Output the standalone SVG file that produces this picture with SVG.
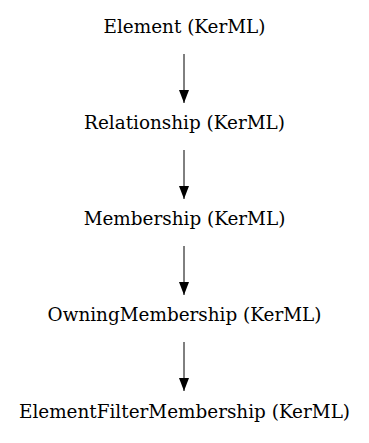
<svg xmlns="http://www.w3.org/2000/svg" width="369" height="443" viewBox="0 0 369 443">
<style>
text{font-family:"DejaVu Serif",serif;font-size:18.4px;fill:#000;text-anchor:middle}
.e{stroke:#000;stroke-width:1;fill:none}
</style>
<defs><marker id="a" markerWidth="13" markerHeight="14" refX="13" refY="7" orient="auto" markerUnits="userSpaceOnUse"><path d="M0,2L13,7L0,12Z" fill="#000"/></marker></defs>
<rect width="369" height="443" fill="#fff"/>
<g id="n1"><text x="184.5" y="33.3">Element (KerML)</text></g>
<g id="n2"><text x="184.5" y="129.3">Relationship (KerML)</text></g>
<g id="n3"><text x="184.5" y="224.8">Membership (KerML)</text></g>
<g id="n4"><text x="184.5" y="320.8">OwningMembership (KerML)</text></g>
<g id="n5"><text x="184.5" y="418">ElementFilterMembership (KerML)</text></g>
<g id="edges">
<path class="e" d="M184,54V103" marker-end="url(#a)"/>
<path class="e" d="M184,150V199" marker-end="url(#a)"/>
<path class="e" d="M184,246V295" marker-end="url(#a)"/>
<path class="e" d="M184,342V391" marker-end="url(#a)"/>
</g>
</svg>
